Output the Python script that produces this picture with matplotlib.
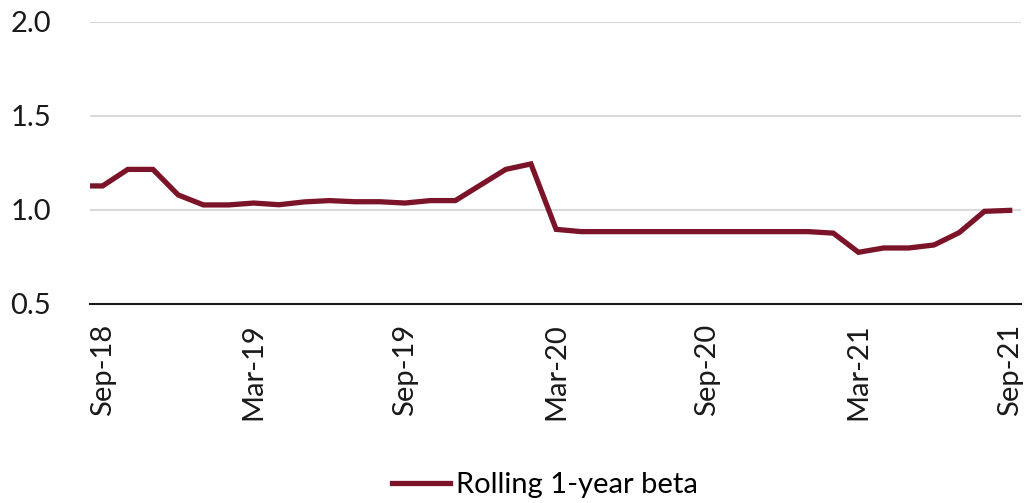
import matplotlib
matplotlib.use("Agg")
import matplotlib.pyplot as plt

plt.rcParams['font.family'] = ['Lato', 'DejaVu Sans']

# month offsets from Sep-18 (first observation half a month earlier)
months = [-0.5] + list(range(0, 37))
beta = [1.128, 1.128, 1.216, 1.216, 1.08, 1.027, 1.027, 1.037, 1.028, 1.043,
        1.05, 1.044, 1.044, 1.037, 1.05, 1.05, 1.133, 1.216, 1.245, 0.897,
        0.885, 0.885, 0.885, 0.885, 0.885, 0.885, 0.885, 0.885, 0.885, 0.885,
        0.877, 0.775, 0.798, 0.798, 0.814, 0.88, 0.993, 0.998]
tick_pos = [0, 6, 12, 18, 24, 30, 36]
tick_labels = ["Sep-18", "Mar-19", "Sep-19", "Mar-20", "Sep-20", "Mar-21", "Sep-21"]
y_ticks = [0.5, 1.0, 1.5, 2.0]

fig = plt.figure(figsize=(10.28, 5.03), dpi=100)
ax = fig.add_axes([90/1028, 1 - 304/503, 931/1028, 282/503])

ax.plot(months, beta, color="#7B1428", linewidth=3.8, solid_joinstyle="miter",
        label="Rolling 1-year beta", zorder=3)

ax.set_ylim(0.5, 2.0)
ax.set_xlim(-0.5, 36.45)
ax.set_yticks(y_ticks)
ax.set_yticklabels([f"{v:.1f}" for v in y_ticks])
ax.set_xticks(tick_pos)
ax.set_xticklabels(tick_labels)

for v in y_ticks[1:]:
    ax.axhline(v, color="#D9D9D9", linewidth=1.5, zorder=1)

for s in ["top", "right", "left"]:
    ax.spines[s].set_visible(False)
ax.spines["bottom"].set_color("#1a1a1a")
ax.spines["bottom"].set_linewidth(1.5)
ax.spines["bottom"].set_position(("data", 0.5))

ax.tick_params(axis="y", length=0, pad=28, labelsize=21, labelcolor="#1a1a1a")
ax.tick_params(axis="x", length=0, pad=14, labelsize=21, labelcolor="#1a1a1a",
               labelrotation=90)

fig.legend(loc="center", bbox_to_anchor=(545/1028, 1 - 485/503), frameon=False,
           fontsize=21, handlelength=2.0, handletextpad=0.2)

fig.savefig("out.png", dpi=100)
